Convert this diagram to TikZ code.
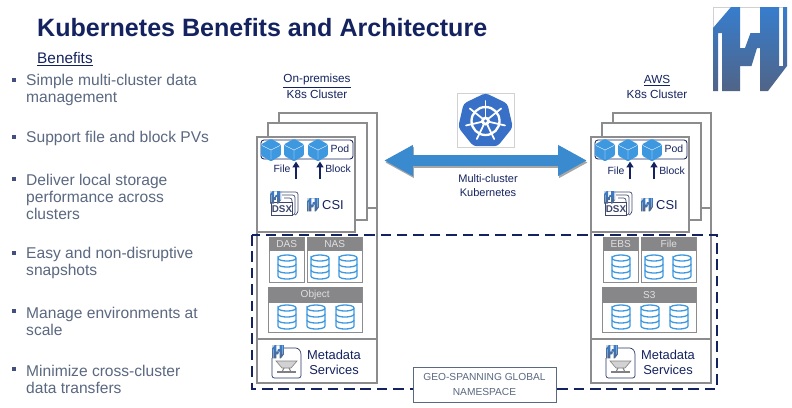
\documentclass[tikz,border=0pt]{standalone}
\usepackage{fontspec}
\setmainfont{Liberation Sans}
\usetikzlibrary{arrows.meta, shapes.geometric}
\definecolor{titleNavy}{RGB}{20, 35, 95}
\definecolor{bulletGray}{RGB}{90, 104, 128}
\definecolor{boxGray}{RGB}{140, 140, 143}
\definecolor{headGray}{RGB}{135, 135, 138}
\definecolor{cubeBlue}{RGB}{62, 152, 224}
\definecolor{arrowBlue}{RGB}{58, 138, 208}
\definecolor{k8sBlue}{RGB}{56, 112, 200}
\definecolor{logoBlue}{RGB}{55, 125, 205}
\definecolor{logoSlate}{RGB}{80, 100, 135}
\tikzset{
  bodytext/.style={font=\fontsize{13.3}{14.5}\selectfont, text=bulletGray, align=left, anchor=west, inner sep=0pt},
  bulletmark/.style={fill=titleNavy!80, minimum size=3.4pt, inner sep=0pt},
  smalltext/.style={font=\fontsize{8.9}{12}\selectfont, text=titleNavy, align=center, inner sep=0pt},
  clustertext/.style={font=\fontsize{10}{12}\selectfont, text=titleNavy, align=center, inner sep=0pt},
  wall/.style={draw=boxGray, line width=1.7pt},
  storeline/.style={draw=boxGray, line width=0.8pt},
  storehead/.style={fill=headGray, text=white!88!black, font=\fontsize{8.6}{10}\selectfont, anchor=north west, inner sep=0pt},
  cubebox/.style={regular polygon, regular polygon sides=6, shape border rotate=30, fill=cubeBlue, rounded corners=1pt,
    minimum size=0.68cm, inner sep=0pt,
    path picture={\draw[white, line width=0.3pt] (path picture bounding box.center) -- +(0,9)
      (path picture bounding box.center) -- +(-9,-4.5) (path picture bounding box.center) -- +(9,-4.5);}},
  podarrow/.style={-{Triangle[length=5pt, width=6pt]}, draw=titleNavy, line width=1.5pt},
  pics/hlogo/.style={code={
    \draw[black!18, line width=0.4pt] (0,84) -- (0,0) -- (74,0);
    \path[top color=logoBlue, bottom color=logoSlate]
      (0,21) -- (18,0) -- (27,0) -- (27,41) -- (44,41) -- (38.5,59) -- (27,59) -- (27,84) -- (9,84) -- (9,26) -- (5,26) -- (5,84) -- (0,84) -- cycle;
    \path[top color=logoBlue, bottom color=logoSlate]
      (47,0) -- (66,0) -- (66,59) -- (70,59) -- (70,0) -- (74,0) -- (74,59) -- (55,84) -- (47,84) -- (47,41) -- (32,41) -- (37.5,26) -- (47,26) -- cycle;
  }},
  pics/dbstack/.style={code={
    \draw[cubeBlue, line width=1.1pt] (-9,-9) .. controls (-9,-13) and (9,-13) .. (9,-9) .. controls (9,-5) and (-9,-5) .. (-9,-9) -- (-9,9)
      .. controls (-9,13) and (9,13) .. (9,9) -- (9,-9);
    \draw[cubeBlue, line width=1.1pt] (-9,-3) .. controls (-9,1) and (9,1) .. (9,-3);
    \draw[cubeBlue, line width=1.1pt] (-9,3) .. controls (-9,7) and (9,7) .. (9,3);
  }},
}
\begin{document}
\begin{tikzpicture}[x=0.03cm, y=-0.03cm]
  \path[use as bounding box, fill=white] (0,0) rectangle (792,407);

  \node[anchor=west, inner sep=0pt, text=titleNavy, font=\fontsize{21.4}{24}\selectfont\bfseries] (title) at (37,28) {Kubernetes Benefits and Architecture};
  \node[anchor=west, inner sep=0pt, text=titleNavy, font=\fontsize{13.1}{15}\selectfont] (benefits) at (37,59) {\underline{Benefits}};
  \pic at (713,7) {hlogo};

  \foreach \i/\by/\ty/\txt in {1/80/90/{Simple multi-cluster data\\management},
    2/137/138.5/{Support file and block PVs},
    3/179/197/{Deliver local storage\\performance across\\clusters},
    4/253/263/{Easy and non-disruptive\\snapshots},
    5/311/321/{Manage environments at\\scale},
    6/369/379/{Minimize cross-cluster\\data transfers}} {
    \node[bulletmark] (mark\i) at (14,\by) {};
    \node[bodytext] (item\i) at (26,\ty) {\txt};
  }

  \foreach \side/\off/\cx/\rowy/\dasname/\nasname/\objname/\place in {onprem/0/317/169/DAS/NAS/Object/On-premises, aws/334/657/171/EBS/File/S3/AWS} {
    \node[clustertext] (\side-place) at (\cx,81) {\underline{\place}};
    \node[clustertext] (\side-k8s) at (\cx,94.5) {K8s Cluster};

    \draw[wall] ({279+\off},123) -- ({279+\off},113) -- ({377+\off},113) -- ({377+\off},383) -- ({257+\off},383) -- ({257+\off},232);
    \draw[wall, fill=white] ({268+\off},137) -- ({268+\off},123) -- ({367+\off},123) -- ({367+\off},220) -- ({355+\off},220);
    \draw[wall] ({367+\off},208) -- ({377+\off},208);
    \draw[wall, fill=white] ({257+\off},137) rectangle ({355+\off},232);
    \draw[wall] ({257+\off},339) rectangle ({377+\off},383);

    \draw[titleNavy, line width=0.7pt, rounded corners=2.5pt] ({261+\off},140) rectangle ({353+\off},159);
    \node[cubebox] (\side-cube1) at ({271+\off},150) {};
    \node[cubebox] (\side-cube2) at ({294+\off},150) {};
    \node[cubebox] (\side-cube3) at ({318+\off},150) {};
    \node[smalltext] (\side-pod) at ({340+\off},149) {Pod};
    \node[smalltext] (\side-file) at ({282+\off},\rowy) {File};
    \node[smalltext] (\side-block) at ({338+\off},\rowy) {Block};
    \coordinate (\side-filefoot) at ({296+\off},179);
    \coordinate (\side-blockfoot) at ({320+\off},179);
    \draw[podarrow] (\side-filefoot) -- (\side-filefoot |- \side-cube2.south);
    \draw[podarrow] (\side-blockfoot) -- (\side-blockfoot |- \side-cube3.south);

    \draw[titleNavy!60!gray, line width=0.6pt, rounded corners=2pt] ({280+\off},192) -- ({298+\off},192) -- ({298+\off},213) -- ({295+\off},215);
    \draw[titleNavy!60!gray, line width=0.6pt, rounded corners=2pt] ({282+\off},195) -- ({295+\off},195) -- ({295+\off},215) -- ({291+\off},215);
    \draw[titleNavy!60!gray, line width=0.6pt, rounded corners=2pt] ({284+\off},198) -- ({292+\off},198) -- ({292+\off},215);
    \node[draw=titleNavy!60!gray, line width=0.8pt, fill=white, minimum width=0.5cm, minimum height=0.37cm, inner sep=0pt,
      text=titleNavy!60!gray, font=\fontsize{8.4}{8}\selectfont\bfseries] (\side-dsx) at ({282+\off},209) {DSX};
    \pic[scale=0.15] at ({270+\off},191) {hlogo};
    \pic[scale=0.16] at ({307+\off},198) {hlogo};
    \node[anchor=west, inner sep=0pt, text=titleNavy, font=\fontsize{11}{12}\selectfont] (\side-csi) at ({322+\off},205) {CSI};

    \foreach \nm/\lbl/\xa/\xb/\ya/\yb/\yc in {das/\dasname/269/304/237/251/282, nas/\nasname/307/362/237/251/282, obj/\objname/268/362/287/303/332} {
      \draw[storeline, fill=white] ({\xa+\off},\ya) rectangle ({\xb+\off},\yc);
      \node[storehead, minimum width={(\xb-\xa)*0.03cm}, minimum height={(\yb-\ya)*0.03cm}] (\side-\nm) at ({\xa+\off},\ya) {\lbl};
    }
    \pic at ({287+\off},267) {dbstack};
    \pic at ({320+\off},267) {dbstack};
    \pic at ({348+\off},267) {dbstack};
    \pic at ({287+\off},317) {dbstack};
    \pic at ({316+\off},317) {dbstack};
    \pic at ({345+\off},317) {dbstack};

    \draw[titleNavy!80!gray, line width=0.6pt, rounded corners=2pt] ({284+\off},348) -- ({298+\off},348) -- ({301+\off},352) -- ({301+\off},378) -- ({272+\off},378) -- ({272+\off},358);
    \draw[gray, fill=gray!35, line width=0.5pt] ({276+\off},361) -- ({297+\off},361) -- ({291+\off},368) -- ({282+\off},368) -- cycle;
    \draw[gray, line width=0.8pt] ({284+\off},368) -- ({282+\off},372) ({289+\off},368) -- ({291+\off},372);
    \draw[gray, line width=1pt] ({277+\off},372) -- ({296+\off},372);
    \pic[scale=0.16] at ({272+\off},345) {hlogo};
    \node[clustertext, font=\fontsize{11}{12.2}\selectfont] (\side-meta) at ({334+\off},362.5) {Metadata\\Services};
  }

  \node[draw=black!18, line width=0.4pt, minimum width=1.71cm, minimum height=1.62cm, inner sep=0pt] (k8sframe) at (485.5,120) {};
  \node[regular polygon, regular polygon sides=7, fill=k8sBlue, rounded corners=3pt, minimum size=1.68cm, inner sep=0pt] (k8slogo) at (485.5,121) {};
  \draw[white, line width=2pt] (k8slogo.center) circle (14);
  \foreach \a in {0,...,6} {
    \draw[white, line width=1.5pt, line cap=round] (k8slogo.center) -- ++({-90+\a*360/7}:20);
  }
  \node[circle, fill=white, minimum size=0.27cm, inner sep=0pt] (k8shub) at (k8slogo.center) {};
  \node[circle, fill=k8sBlue, minimum size=0.1cm, inner sep=0pt] (k8seye) at (k8slogo.center) {};

  \coordinate (linkleft) at (384,160.5);
  \coordinate (linkright) at (587,160.5);
  \draw[black!35, line width=9.4pt, {Triangle[length=24.7pt, width=24.7pt]}-{Triangle[length=24.7pt, width=24.7pt]}] ([shift={(1,2)}]linkleft) -- ([shift={(1,2)}]linkright);
  \draw[arrowBlue, line width=9.4pt, {Triangle[length=24.7pt, width=24.7pt]}-{Triangle[length=24.7pt, width=24.7pt]}] (linkleft) -- (linkright);
  \node[smalltext, font=\fontsize{9.4}{12}\selectfont] (linklabel) at (488,186) {Multi-cluster\\Kubernetes};

  \draw[titleNavy, line width=1.8pt, dash pattern=on 9pt off 5pt] (252,235) rectangle (717,389);
  \node[draw=bulletGray, fill=white, line width=0.7pt, minimum width=4.29cm, minimum height=1.05cm, inner sep=0pt,
    text=bulletGray, align=center, font=\fontsize{8.7}{12}\selectfont] (namespace) at (484.5,384.5) {GEO-SPANNING GLOBAL\\NAMESPACE};
\end{tikzpicture}
\end{document}
